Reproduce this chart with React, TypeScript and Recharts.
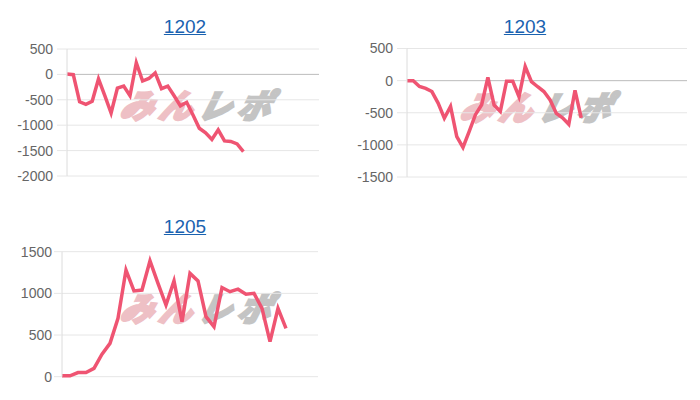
import { LineChart, Line, XAxis, YAxis, CartesianGrid, ReferenceLine } from 'recharts';

// machine numbers shown as chart titles
const titles = ['1202', '1203', '1205'];

// daily difference values
const values1202 = [
  10, -5, -540, -590, -530, -90, -420, -760, -270, -230, -420, 230, -130, -80, 30,
  -280, -230, -420, -620, -550, -800, -1060, -1150, -1280, -1090, -1310, -1320, -1370, -1520,
];
const values1203 = [
  0, 0, -90, -120, -170, -350, -585, -400, -870, -1040, -790, -530, -375, 50, -380,
  -480, -10, -10, -250, 220, -15, -95, -170, -300, -510, -580, -680, -150, -580,
];
const values1205 = [
  10, 10, 50, 50, 100, 270, 400, 700, 1280, 1030, 1040, 1390, 1120, 860, 1150,
  660, 1240, 1150, 720, 600, 1070, 1020, 1050, 990, 1000, 820, 420, 820, 580,
];

// number of x slots on each axis (labels are hidden)
const slots1202 = 41;
const slots1203 = 46;
const slots1205 = 33;

const ticks1202 = [-2000, -1500, -1000, -500, 0, 500];
const ticks1203 = [-1500, -1000, -500, 0, 500];
const ticks1205 = [0, 500, 1000, 1500];

const LINE = '#ef5472';
const GRID = '#e6e6e6';

const buildRows = (values: number[], slots: number) =>
  Array.from({ length: slots }, (_, i) => ({ i, v: i < values.length ? values[i] : null }));

interface MiniChartProps {
  title: string;
  values: number[];
  slots: number;
  ticks: number[];
  left: number;
  top: number;
  width: number;
  axisWidth: number;
  margin: { top: number; right: number; bottom: number; left: number };
  titleX: number;
  tickSize: number;
  tickMargin: number;
  showZero: boolean;
  markX: number;
  markY: number;
}

const MiniChart = ({
  title, values, slots, ticks, left, top, width, axisWidth, margin, titleX, tickSize, tickMargin, showZero, markX, markY,
}: MiniChartProps) => {
  const data = buildRows(values, slots);
  return (
    <>
      <div
        style={{
          position: 'absolute',
          left: titleX - 50,
          top: top - 24.5,
          width: 100,
          textAlign: 'center',
          fontFamily: '"Liberation Sans", Arial, sans-serif',
          fontSize: 19,
          lineHeight: '22px',
          color: '#1a62b0',
          textDecoration: 'underline',
        }}
      >
        {title}
      </div>
      {/* watermark logo, drawn behind the plot */}
      <div
        style={{
          position: 'absolute',
          left: markX,
          top: markY,
          fontFamily: '"Noto Sans CJK JP", sans-serif',
          fontWeight: 900,
          fontStyle: 'italic',
          fontSize: 33,
          lineHeight: '34px',
          letterSpacing: 6,
          transform: 'skewX(-14deg)',
          whiteSpace: 'nowrap',
        }}
      >
        <span style={{ color: '#eec0c5', WebkitTextStroke: '2.5px #eec0c5' }}>みん</span>
        <span style={{ color: '#c4c4c4', WebkitTextStroke: '2.5px #c4c4c4' }}>レポ</span>
      </div>
      <div style={{ position: 'absolute', left, top }}>
        <LineChart width={width} height={150} data={data} margin={margin}>
          <CartesianGrid vertical={false} stroke={GRID} />
          <XAxis
            dataKey="i"
            type="number"
            domain={[0, slots - 1]}
            tick={false}
            tickLine={false}
            height={0}
            axisLine={{ stroke: '#c8c8c8' }}
          />
          <YAxis
            width={axisWidth}
            domain={[ticks[0], ticks[ticks.length - 1]]}
            ticks={ticks}
            interval={0}
            tickSize={tickSize}
            tickMargin={tickMargin}
            tickLine={{ stroke: GRID }}
            axisLine={{ stroke: '#dcdcdc' }}
            tick={{ fill: '#666', fontSize: 14, fontFamily: '"Liberation Sans", Arial, sans-serif' }}
          />
          {showZero && <ReferenceLine y={0} stroke="#c0c0c0" />}
          <Line
            type="linear"
            dataKey="v"
            stroke={LINE}
            strokeWidth={3.5}
            strokeLinejoin="miter"
            dot={false}
            activeDot={false}
            isAnimationActive={false}
          />
        </LineChart>
      </div>
    </>
  );
};

export default function App() {
  return (
    <div style={{ position: 'absolute', left: 0, top: 0, width: 700, height: 400, background: '#fff' }}>
      <MiniChart
        title={titles[0]}
        values={values1202}
        slots={slots1202}
        ticks={ticks1202}
        left={0}
        top={40}
        width={330}
        axisWidth={67}
        margin={{ top: 9, right: 11, bottom: 14, left: 0 }}
        titleX={185}
        tickSize={10}
        tickMargin={4}
        showZero
        markX={122}
        markY={87}
      />
      <MiniChart
        title={titles[1]}
        values={values1203}
        slots={slots1203}
        ticks={ticks1203}
        left={340}
        top={40}
        width={360}
        axisWidth={67}
        margin={{ top: 8.5, right: 13, bottom: 13, left: 0 }}
        titleX={525}
        tickSize={10}
        tickMargin={4}
        showZero
        markX={462}
        markY={89}
      />
      <MiniChart
        title={titles[2]}
        values={values1205}
        slots={slots1205}
        ticks={ticks1205}
        left={0}
        top={240}
        width={330}
        axisWidth={62}
        margin={{ top: 11.7, right: 12, bottom: 13.3, left: 0 }}
        titleX={185}
        tickSize={8}
        tickMargin={2}
        showZero={false}
        markX={122}
        markY={290}
      />
    </div>
  );
}
